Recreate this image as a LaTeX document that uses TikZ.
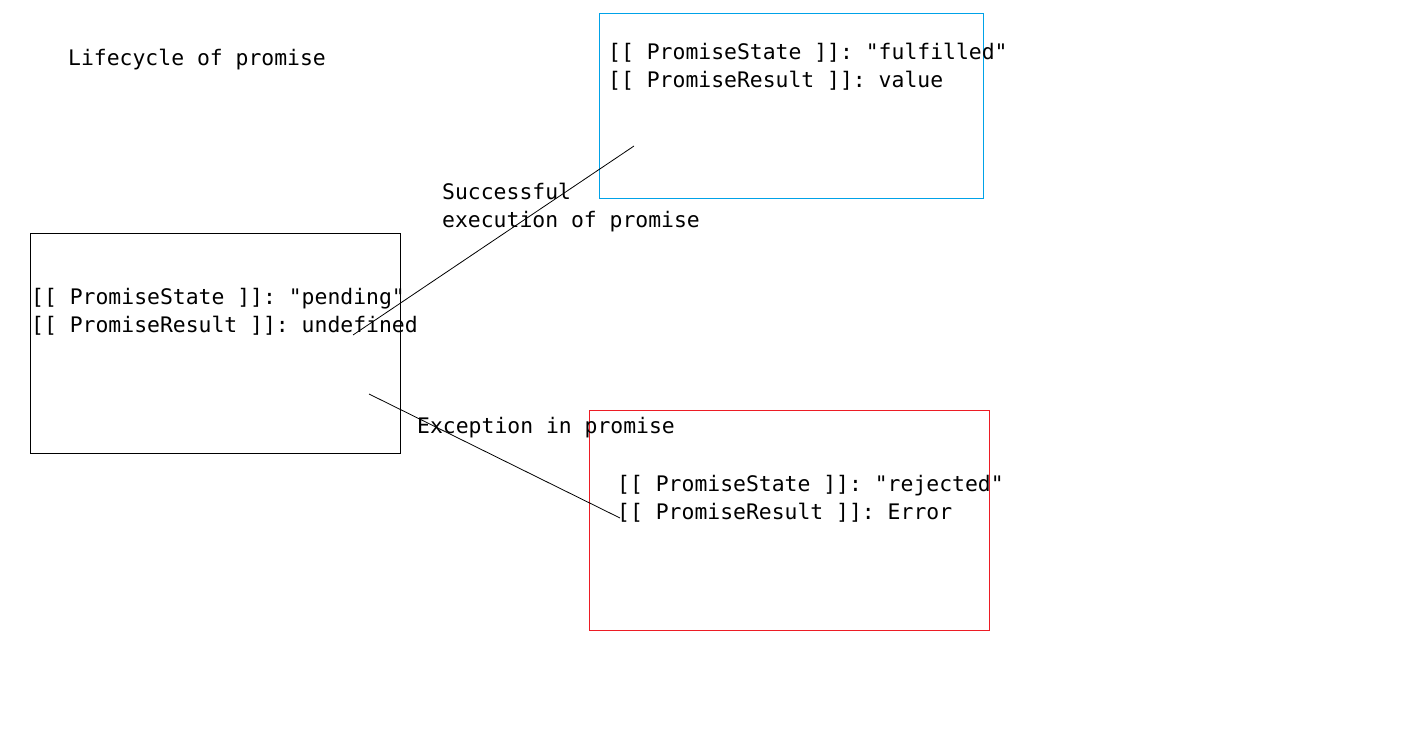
\documentclass[tikz,border=0pt]{standalone}
\usepackage{fontspec}
\setmonofont{DejaVu Sans Mono}
\definecolor{paintblue}{HTML}{00A2E8}
\definecolor{paintred}{HTML}{ED1C24}
\begin{document}
\begin{tikzpicture}[x=1pt,y=-1pt,
  txt/.style={anchor=base west,inner sep=0pt,font=\ttfamily\fontsize{21.4}{28}\selectfont,align=left},
  frame/.style={draw,line width=0.8pt,anchor=north west,inner sep=0pt,outer sep=0pt},
  link/.style={draw,line width=0.8pt}]
\useasboundingbox (0,0) rectangle (1403,750);
% boxes
\node[frame,minimum width=370pt,minimum height=220pt] (pending) at (30,233) {};
\node[frame,draw=paintblue,minimum width=384pt,minimum height=185pt] (fulfilled) at (599,13) {};
\node[frame,draw=paintred,minimum width=400pt,minimum height=220pt] (rejected) at (589,410) {};
% texts
\node[txt] (title) at (68,65) {Lifecycle of promise};
\node[txt] (ful1) at (608,59) {[[ PromiseState ]]: "fulfilled"};
\node[txt] (ful2) at (608,87) {[[ PromiseResult ]]: value};
\node[txt] (succ1) at (442,199) {Successful};
\node[txt] (succ2) at (442,227) {execution of promise};
\node[txt] (pen1) at (31,304) {[[ PromiseState ]]: "pending"};
\node[txt] (pen2) at (31,332) {[[ PromiseResult ]]: undefined};
\node[txt] (exc) at (417,433) {Exception in promise};
\node[txt] (rej1) at (617,491) {[[ PromiseState ]]: "rejected"};
\node[txt] (rej2) at (617,519) {[[ PromiseResult ]]: Error};
% connectors
\coordinate (s1) at (353,335);
\coordinate (e1) at (634,146);
\coordinate (s2) at (369,394);
\coordinate (e2) at (620,518);
\draw[link] (s1) -- (e1);
\draw[link] (s2) -- (e2);
\end{tikzpicture}
\end{document}
